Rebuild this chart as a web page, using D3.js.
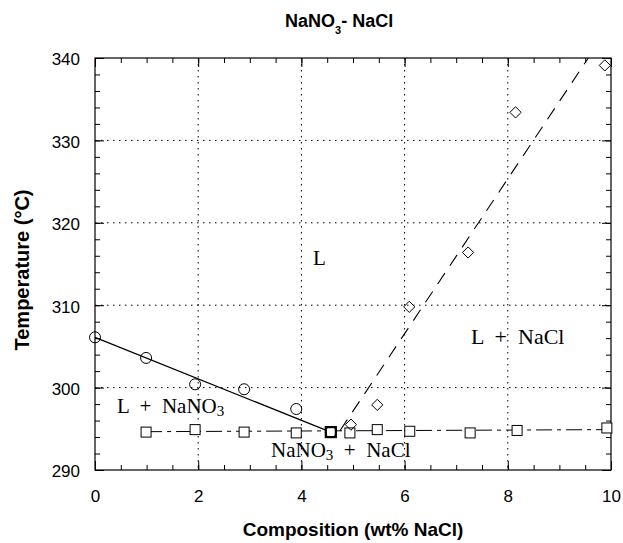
<!DOCTYPE html>
<html>
<head>
<meta charset="utf-8">
<script src="https://cdn.jsdelivr.net/npm/d3@7"></script>
<style>
  body { margin: 0; background: #fff; }
  .tick text { font-family: "Liberation Sans", Arial, sans-serif; font-size: 17px; }
  .grid line { stroke: #000; stroke-dasharray: 1.5,4.5; }
  .phase { font-family: "Liberation Serif", "Times New Roman", serif; font-size: 21px; white-space: pre; }
</style>
</head>
<body>
<div id="chart"></div>
<script>
// NaNO3 liquidus (circles)
var circleX = [0, 0.99, 1.94, 2.89, 3.90, 4.57];
var circleT = [306.1, 303.6, 300.4, 299.8, 297.4, 294.6];

// eutectic (squares)
var squareX = [0.99, 1.94, 2.89, 3.90, 4.57, 4.94, 5.47, 6.10, 7.27, 8.18, 9.92];
var squareT = [294.6, 294.9, 294.6, 294.5, 294.6, 294.5, 294.9, 294.7, 294.5, 294.8, 295.1];

// NaCl liquidus (diamonds)
var diamondX = [4.96, 5.47, 6.09, 7.23, 8.15, 9.88];
var diamondT = [295.5, 297.9, 309.8, 316.4, 333.4, 339.1];

// fitted lines
var solidFitX = [0, 4.57];
var solidFitT = [306.1, 294.6];
var naclFitX = [4.75, 9.56];
var naclFitT = [294.8, 340];
var eutFitX = [0.99, 9.92];
var eutFitT = [294.65, 294.9];

var xTicks = [0, 2, 4, 6, 8, 10];
var yTicks = [290, 300, 310, 320, 330, 340];

var margin = {top: 58, right: 12, bottom: 73, left: 95},
    width = 623 - margin.left - margin.right,
    height = 543 - margin.top - margin.bottom;

var svg = d3.select("#chart")
    .append("svg")
        .attr("width", 623)
        .attr("height", 543);

var g = svg.append("g")
    .attr("transform", "translate(" + margin.left + "," + margin.top + ")");

var x = d3.scaleLinear().domain([0, 10]).range([0, width]);
var y = d3.scaleLinear().domain([290, 340]).range([height, 0]);

// grid
g.append("g").attr("class", "grid")
    .selectAll("line").data(xTicks.slice(1, -1)).enter().append("line")
    .attr("x1", function(d) { return x(d); }).attr("x2", function(d) { return x(d); })
    .attr("y1", 0).attr("y2", height);
g.append("g").attr("class", "grid")
    .selectAll("line").data(yTicks.slice(1, -1)).enter().append("line")
    .attr("y1", function(d) { return y(d); }).attr("y2", function(d) { return y(d); })
    .attr("x1", 0).attr("x2", width);

// minor ticks, all four sides
var xMinor = d3.range(0, 10.01, 0.5), yMinor = d3.range(290, 340.01, 2);
function tickAxes(axisFn, scale, vals, size, transform, labels) {
    var a = axisFn(scale).tickValues(vals).tickSizeInner(-size).tickSizeOuter(0);
    if (!labels) a.tickFormat("");
    var sel = g.append("g").attr("transform", transform).call(a);
    sel.select(".domain").remove();
    sel.selectAll(".tick line").attr("stroke", "#000");
    return sel;
}
tickAxes(d3.axisBottom, x, xMinor, 5, "translate(0," + height + ")");
tickAxes(d3.axisTop, x, xMinor, 5, "translate(0,0)");
tickAxes(d3.axisLeft, y, yMinor, 5, "translate(0,0)");
tickAxes(d3.axisRight, y, yMinor, 5, "translate(" + width + ",0)");

var xAx = tickAxes(d3.axisBottom, x, xTicks, 9, "translate(0," + height + ")", true);
xAx.selectAll(".tick text").attr("y", 20).attr("fill", "#000");
tickAxes(d3.axisTop, x, xTicks, 9, "translate(0,0)");
var yAx = tickAxes(d3.axisLeft, y, yTicks, 9, "translate(0,0)", true);
yAx.selectAll(".tick text").attr("x", -15).attr("dy", "0.4em").attr("fill", "#000");
tickAxes(d3.axisRight, y, yTicks, 9, "translate(" + width + ",0)");

// frame
g.append("rect")
    .attr("width", width).attr("height", height)
    .attr("fill", "none").attr("stroke", "#000").attr("stroke-width", 1.2);

// lines
var line = d3.line().x(function(d) { return x(d[0]); }).y(function(d) { return y(d[1]); });
g.append("path")
    .datum(d3.zip(solidFitX, solidFitT))
    .attr("d", line).attr("fill", "none").attr("stroke", "#000").attr("stroke-width", 1.2);
g.append("path")
    .datum(d3.zip(naclFitX, naclFitT))
    .attr("d", line).attr("fill", "none").attr("stroke", "#000").attr("stroke-width", 1.1)
    .attr("stroke-dasharray", "13,9");
g.append("path")
    .datum(d3.zip(eutFitX, eutFitT))
    .attr("d", line).attr("fill", "none").attr("stroke", "#000").attr("stroke-width", 1)
    .attr("stroke-dasharray", "16,5,4,5");

// markers
g.selectAll(".sq").data(d3.zip(squareX, squareT)).enter().append("rect")
    .attr("class", "sq")
    .attr("x", function(d) { return x(d[0]) - 5; })
    .attr("y", function(d) { return y(d[1]) - 5; })
    .attr("width", 10).attr("height", 10)
    .attr("fill", "#fff").attr("stroke", "#000").attr("stroke-width", 1);
g.selectAll(".ci").data(d3.zip(circleX, circleT)).enter().append("circle")
    .attr("class", "ci")
    .attr("cx", function(d) { return x(d[0]); })
    .attr("cy", function(d) { return y(d[1]); })
    .attr("r", 5.5)
    .attr("fill", "none").attr("stroke", "#000").attr("stroke-width", 1);
g.selectAll(".di").data(d3.zip(diamondX, diamondT)).enter().append("path")
    .attr("class", "di")
    .attr("d", d3.symbol().type(d3.symbolDiamond2).size(80))
    .attr("transform", function(d) { return "translate(" + x(d[0]) + "," + y(d[1]) + ")"; })
    .attr("fill", "none").attr("stroke", "#000").attr("stroke-width", 1);

// eutectic point drawn heavier
g.append("rect")
    .attr("x", x(circleX[5]) - 5).attr("y", y(circleT[5]) - 5)
    .attr("width", 10).attr("height", 10)
    .attr("fill", "none").attr("stroke", "#000").attr("stroke-width", 2.2);

// phase labels
g.append("text").attr("class", "phase").attr("x", 218).attr("y", 207).text("L");
g.append("text").attr("class", "phase").attr("x", 376).attr("y", 286).style("font-size", "22px").text("L  +  NaCl");
var t1 = g.append("text").attr("class", "phase").attr("x", 22).attr("y", 355);
t1.append("tspan").text("L  +  NaNO");
t1.append("tspan").attr("font-size", "15px").attr("dy", 3).text("3");
var t2 = g.append("text").attr("class", "phase").attr("x", 176).attr("y", 399);
t2.append("tspan").text("NaNO");
t2.append("tspan").attr("font-size", "15px").attr("dy", 3).text("3");
t2.append("tspan").attr("dy", -3).text("  +  NaCl");

// title
var title = svg.append("text")
    .attr("x", 285).attr("y", 27)
    .style("font-family", "Liberation Sans, Arial, sans-serif")
    .style("font-weight", "bold").style("font-size", "18px");
title.append("tspan").text("NaNO");
title.append("tspan").attr("font-size", "11px").attr("dy", 7).text("3");
title.append("tspan").attr("dy", -7).text("- NaCl");

// axis titles
svg.append("text")
    .attr("x", margin.left + width / 2).attr("y", 536)
    .attr("text-anchor", "middle")
    .style("font-family", "Liberation Sans, Arial, sans-serif")
    .style("font-weight", "bold").style("font-size", "19px")
    .text("Composition (wt% NaCl)");
svg.append("text")
    .attr("transform", "translate(29," + (margin.top + height / 2 + 6) + ") rotate(-90)")
    .attr("text-anchor", "middle")
    .style("font-family", "Liberation Sans, Arial, sans-serif")
    .style("font-weight", "bold").style("font-size", "20px")
    .text("Temperature (°C)");
</script>
</body>
</html>
